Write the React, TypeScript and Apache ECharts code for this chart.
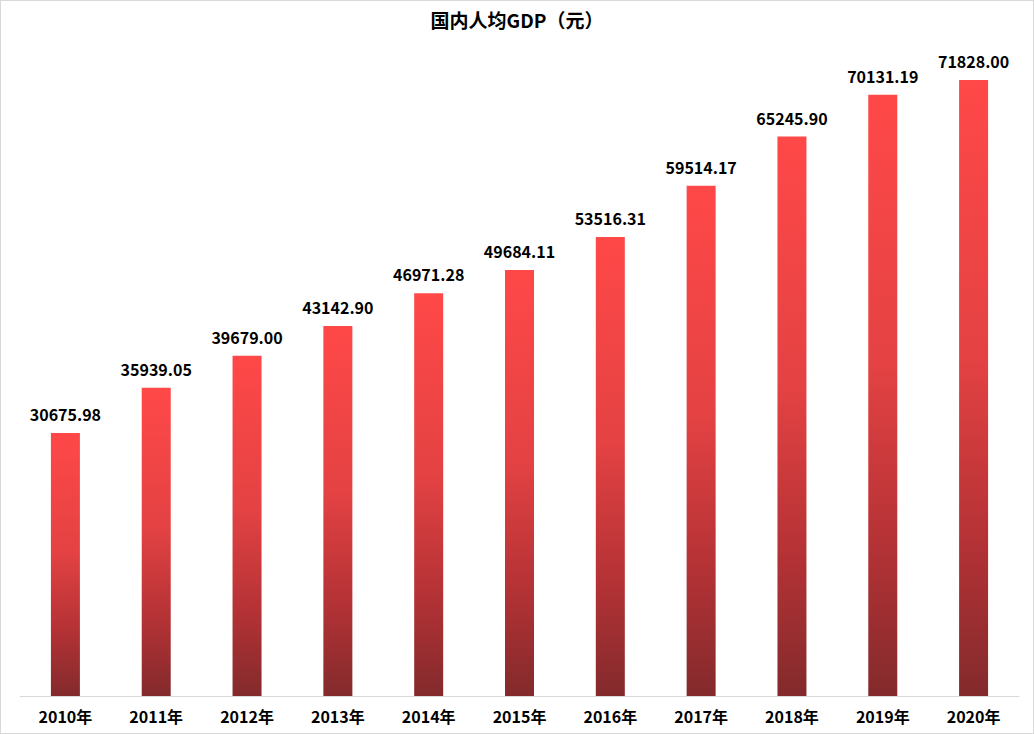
import React, { useEffect, useRef } from "react";
import * as echarts from "echarts";

const categories = ["2010年", "2011年", "2012年", "2013年", "2014年", "2015年", "2016年", "2017年", "2018年", "2019年", "2020年"];
const gdpPerCapita = [30675.98, 35939.05, 39679.0, 43142.9, 46971.28, 49684.11, 53516.31, 59514.17, 65245.9, 70131.19, 71828.0];
const titleText = "国内人均GDP（元）";

const FONT = "'Noto Sans CJK SC', 'Noto Sans', sans-serif";

export default function App() {
  const ref = useRef<HTMLDivElement>(null);
  useEffect(() => {
    if (!ref.current) return;
    const chart = echarts.init(ref.current, undefined, { renderer: "svg" });
    chart.setOption({
      animation: false,
      backgroundColor: "#ffffff",
      title: {
        text: titleText,
        left: "center",
        top: 4,
        textStyle: { fontFamily: FONT, fontSize: 19, fontWeight: "bold", color: "#000" },
      },
      grid: { left: 19, right: 14, top: 9, bottom: 37, containLabel: false },
      xAxis: {
        type: "category",
        data: categories,
        axisLine: { lineStyle: { color: "#d9d9d9", width: 1 } },
        axisTick: { show: false },
        axisLabel: { fontFamily: FONT, fontSize: 16, fontWeight: "bold", color: "#000", margin: 12 },
      },
      yAxis: {
        type: "value",
        min: 0,
        max: 80000,
        show: false,
        splitLine: { show: false },
      },
      series: [
        {
          type: "bar",
          data: gdpPerCapita,
          barWidth: 29,
          itemStyle: {
            color: new echarts.graphic.LinearGradient(0, 0, 0, 1, [
              { offset: 0, color: "#FF4848" },
              { offset: 0.45, color: "#E44243" },
              { offset: 0.75, color: "#B43235" },
              { offset: 1, color: "#832A2C" },
            ]),
          },
          label: {
            show: true,
            position: "top",
            distance: 11,
            fontFamily: FONT,
            fontSize: 16,
            fontWeight: "bold",
            color: "#000",
            formatter: (p: any) => Number(p.value).toFixed(2),
          },
        },
      ],
    });
    return () => chart.dispose();
  }, []);
  return (
    <div
      style={{
        position: "fixed",
        left: 0,
        top: 0,
        width: 1034,
        height: 734,
        boxSizing: "border-box",
        border: "1px solid #d9d9d9",
        background: "#fff",
      }}
    >
      <div ref={ref} style={{ width: 1032, height: 732 }} />
    </div>
  );
}
